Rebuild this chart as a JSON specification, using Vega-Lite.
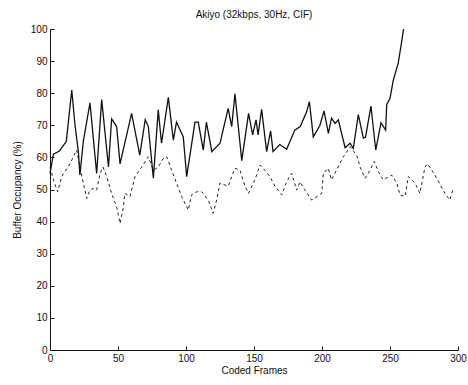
{
  "$schema": "https://vega.github.io/schema/vega-lite/v6.json",
  "width": 408,
  "height": 321,
  "autosize": "none",
  "padding": {"left": 50, "top": 29, "right": 10, "bottom": 35},
  "background": "white",
  "title": {"text": "Akiyo (32kbps, 30Hz, CIF)", "fontSize": 10, "fontWeight": "normal", "font": "Liberation Sans", "color": "#111", "offset": 4},
  "config": {"view": {"stroke": null}},
  "datasets": {
    "solid": [
      {"frame": 0, "value": 55}, {"frame": 2.5, "value": 61}, {"frame": 7, "value": 62}, {"frame": 12, "value": 65},
      {"frame": 16, "value": 81}, {"frame": 18.4, "value": 70}, {"frame": 20.8, "value": 62}, {"frame": 22, "value": 54.5},
      {"frame": 24.5, "value": 65}, {"frame": 29.4, "value": 77}, {"frame": 34.3, "value": 55}, {"frame": 38, "value": 78},
      {"frame": 43, "value": 57}, {"frame": 45.3, "value": 72}, {"frame": 49, "value": 69.6}, {"frame": 51.5, "value": 58},
      {"frame": 60, "value": 73.7}, {"frame": 66, "value": 60.7}, {"frame": 70, "value": 71.7}, {"frame": 72.3, "value": 69.6},
      {"frame": 76, "value": 53.5}, {"frame": 79.6, "value": 74.8}, {"frame": 82, "value": 64.4}, {"frame": 87, "value": 78.7},
      {"frame": 90.7, "value": 65.4}, {"frame": 93, "value": 71}, {"frame": 98, "value": 66.4}, {"frame": 100.5, "value": 54},
      {"frame": 106.6, "value": 71}, {"frame": 109, "value": 71}, {"frame": 112.7, "value": 62.3}, {"frame": 115, "value": 71},
      {"frame": 119, "value": 61.8}, {"frame": 125, "value": 64.4}, {"frame": 131, "value": 75.3}, {"frame": 133.6, "value": 69.6},
      {"frame": 136, "value": 79.8}, {"frame": 141, "value": 59}, {"frame": 146, "value": 73.7}, {"frame": 149, "value": 67},
      {"frame": 151.5, "value": 71.7}, {"frame": 153, "value": 67}, {"frame": 155.6, "value": 75}, {"frame": 159.3, "value": 61.8},
      {"frame": 162.2, "value": 68.3}, {"frame": 164, "value": 61.8}, {"frame": 169, "value": 64}, {"frame": 174, "value": 62.5},
      {"frame": 180, "value": 68.5}, {"frame": 184, "value": 69.6}, {"frame": 188.7, "value": 74.2}, {"frame": 190.7, "value": 77.4},
      {"frame": 193.6, "value": 66.4}, {"frame": 198.5, "value": 70}, {"frame": 201.5, "value": 74.5}, {"frame": 204.7, "value": 67.5},
      {"frame": 207, "value": 72.2}, {"frame": 209.6, "value": 70.6}, {"frame": 212, "value": 71.7}, {"frame": 217, "value": 63},
      {"frame": 220.6, "value": 64.4}, {"frame": 223, "value": 62.8}, {"frame": 226.7, "value": 73.3}, {"frame": 230.4, "value": 66},
      {"frame": 232, "value": 66.3}, {"frame": 236, "value": 76}, {"frame": 239.5, "value": 62.3}, {"frame": 243.4, "value": 70.8},
      {"frame": 246.8, "value": 68.5}, {"frame": 247.6, "value": 76.5}, {"frame": 250, "value": 78.4}, {"frame": 252.4, "value": 84},
      {"frame": 256, "value": 89.3}, {"frame": 258, "value": 94.5}, {"frame": 260, "value": 100}
    ],
    "dashed": [
      {"frame": 0, "value": 57}, {"frame": 2.5, "value": 53}, {"frame": 5, "value": 50}, {"frame": 5.6, "value": 49.3},
      {"frame": 8.6, "value": 54}, {"frame": 14.7, "value": 58}, {"frame": 19.6, "value": 62.3}, {"frame": 22, "value": 57},
      {"frame": 24.5, "value": 52}, {"frame": 27, "value": 47.2}, {"frame": 29.4, "value": 49.8}, {"frame": 31.8, "value": 50.3},
      {"frame": 34.3, "value": 49.8}, {"frame": 36.8, "value": 55}, {"frame": 39, "value": 57}, {"frame": 41.7, "value": 54},
      {"frame": 45.3, "value": 48.8}, {"frame": 49, "value": 44.6}, {"frame": 51.5, "value": 39.4}, {"frame": 54, "value": 44.6},
      {"frame": 55, "value": 48.8}, {"frame": 58.8, "value": 47.8}, {"frame": 62.5, "value": 54}, {"frame": 67.4, "value": 57},
      {"frame": 72.3, "value": 60.2}, {"frame": 76, "value": 56}, {"frame": 79.6, "value": 57}, {"frame": 83.3, "value": 59.7},
      {"frame": 85.8, "value": 60.2}, {"frame": 89.5, "value": 56}, {"frame": 93, "value": 52}, {"frame": 96.8, "value": 47.8},
      {"frame": 101.7, "value": 43.6}, {"frame": 104, "value": 48.3}, {"frame": 108, "value": 49.3}, {"frame": 111.5, "value": 49.3},
      {"frame": 116.4, "value": 46.7}, {"frame": 120, "value": 42.6}, {"frame": 122.5, "value": 46.7}, {"frame": 125, "value": 52},
      {"frame": 128.7, "value": 51.4}, {"frame": 131, "value": 51}, {"frame": 133.6, "value": 54}, {"frame": 136, "value": 56.6},
      {"frame": 139.7, "value": 56}, {"frame": 143.4, "value": 51}, {"frame": 146, "value": 48.8}, {"frame": 150.7, "value": 53},
      {"frame": 154.4, "value": 57.6}, {"frame": 158, "value": 56}, {"frame": 161.8, "value": 54}, {"frame": 165.4, "value": 51},
      {"frame": 170.4, "value": 48.3}, {"frame": 174, "value": 52.4}, {"frame": 177.7, "value": 55}, {"frame": 181.4, "value": 49.8},
      {"frame": 183.8, "value": 52.4}, {"frame": 187.5, "value": 49.8}, {"frame": 192.4, "value": 46.7}, {"frame": 199.8, "value": 48.8},
      {"frame": 201, "value": 55}, {"frame": 204.6, "value": 56.6}, {"frame": 207, "value": 53}, {"frame": 215.7, "value": 60.2},
      {"frame": 220.6, "value": 63.3}, {"frame": 225.5, "value": 60.7}, {"frame": 228, "value": 57}, {"frame": 231.6, "value": 53.5},
      {"frame": 234, "value": 55}, {"frame": 238.5, "value": 58.7}, {"frame": 241.4, "value": 55.6}, {"frame": 245, "value": 53},
      {"frame": 251.2, "value": 54.5}, {"frame": 255, "value": 52}, {"frame": 257.4, "value": 48.3}, {"frame": 261, "value": 47.8},
      {"frame": 263.5, "value": 54}, {"frame": 268.4, "value": 52}, {"frame": 272, "value": 48.8}, {"frame": 275.7, "value": 57},
      {"frame": 277.7, "value": 58}, {"frame": 283, "value": 54.5}, {"frame": 290.4, "value": 48.8}, {"frame": 294, "value": 46.7},
      {"frame": 296.5, "value": 50.3}
    ]
  },
  "encoding": {
    "x": {"field": "frame", "type": "quantitative", "scale": {"domain": [0, 300], "nice": false, "zero": false},
      "axis": {"title": "Coded Frames", "values": [0, 50, 100, 150, 200, 250, 300], "grid": false, "tickSize": -4, "labelPadding": 7, "labelOverlap": false, "labelFlush": false,
        "domainColor": "#111", "tickColor": "#111", "labelColor": "#111", "titleColor": "#111", "labelFont": "Liberation Sans", "titleFont": "Liberation Sans",
        "labelFontSize": 10, "titleFontSize": 10, "titleFontWeight": "normal", "titlePadding": 2}},
    "y": {"field": "value", "type": "quantitative", "scale": {"domain": [0, 100], "nice": false},
      "axis": {"title": "Buffer Occupancy (%)", "values": [0, 10, 20, 30, 40, 50, 60, 70, 80, 90, 100], "grid": false, "tickSize": -4, "labelPadding": 7, "labelOverlap": false, "labelFlush": false,
        "domainColor": "#111", "tickColor": "#111", "labelColor": "#111", "titleColor": "#111", "labelFont": "Liberation Sans", "titleFont": "Liberation Sans",
        "labelFontSize": 10, "titleFontSize": 10, "titleFontWeight": "normal", "titlePadding": 8}}
  },
  "layer": [
    {
      "data": {"name": "dashed"},
      "mark": {"type": "line", "color": "#222", "strokeWidth": 1, "strokeDash": [3, 3]}
    },
    {
      "data": {"name": "solid"},
      "mark": {"type": "line", "color": "#111", "strokeWidth": 1.3}
    }
  ]
}
